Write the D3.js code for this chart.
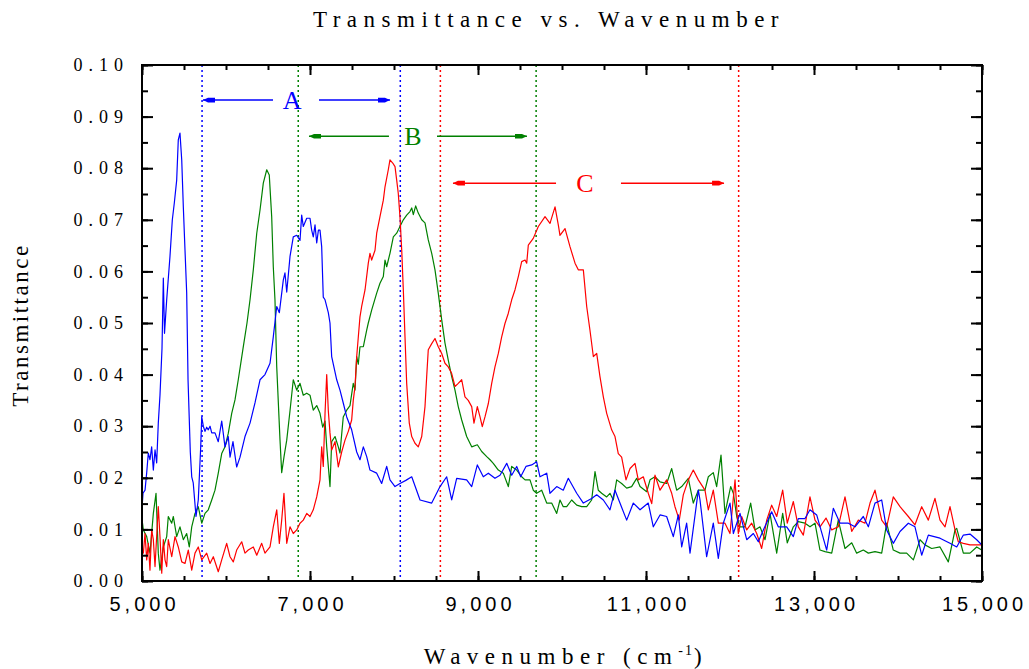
<!DOCTYPE html>
<html>
<head>
<meta charset="utf-8">
<script src="https://cdn.jsdelivr.net/npm/d3@7"></script>
<style>
body { margin: 0; background: #fff; }
</style>
</head>
<body>
<div id="chart"></div>
<script>
// series: [wavenumber (cm-1), transmittance]
var seriesA = [[5000,0.014],[5012,0.017],[5036,0.0176],[5056,0.021],[5075,0.0248],[5095,0.0235],[5115,0.026],[5135,0.0215],[5155,0.0254],[5175,0.0229],[5194,0.0306],[5214,0.036],[5238,0.045],[5254,0.0587],[5268,0.048],[5294,0.0545],[5333,0.0629],[5361,0.070],[5385,0.0733],[5413,0.0777],[5432,0.0855],[5452,0.0868],[5473,0.0816],[5492,0.0725],[5512,0.0641],[5532,0.0558],[5548,0.039],[5575,0.025],[5592,0.0202],[5610,0.019],[5643,0.0125],[5670,0.0157],[5699,0.026],[5711,0.0318],[5730,0.030],[5750,0.029],[5770,0.0298],[5789,0.0293],[5810,0.030],[5830,0.0287],[5869,0.0287],[5908,0.027],[5949,0.031],[5988,0.026],[6027,0.028],[6048,0.024],[6083,0.027],[6127,0.0221],[6167,0.024],[6226,0.028],[6286,0.0306],[6345,0.0345],[6405,0.039],[6464,0.040],[6524,0.0422],[6563,0.0473],[6604,0.0532],[6635,0.052],[6682,0.0583],[6702,0.0597],[6723,0.056],[6762,0.0629],[6801,0.0667],[6842,0.067],[6881,0.066],[6901,0.0709],[6920,0.0687],[6961,0.0703],[7000,0.0703],[7020,0.068],[7039,0.0667],[7060,0.069],[7080,0.0655],[7100,0.068],[7119,0.068],[7139,0.0648],[7158,0.055],[7179,0.0545],[7218,0.052],[7238,0.050],[7258,0.0435],[7318,0.039],[7357,0.037],[7396,0.0345],[7437,0.0318],[7496,0.0293],[7556,0.025],[7595,0.0235],[7635,0.026],[7675,0.0241],[7714,0.0215],[7794,0.0209],[7853,0.0189],[7913,0.0222],[7952,0.0196],[8012,0.0183],[8071,0.0189],[8141,0.0195],[8211,0.0202],[8310,0.0157],[8449,0.0151],[8548,0.0183],[8627,0.0202],[8687,0.0157],[8746,0.0199],[8865,0.0196],[8925,0.0183],[8992,0.0225],[9063,0.0202],[9123,0.0209],[9202,0.0199],[9262,0.0205],[9342,0.0228],[9401,0.0205],[9461,0.0222],[9508,0.0202],[9571,0.0222],[9639,0.0225],[9698,0.0231],[9738,0.0202],[9818,0.0209],[9857,0.017],[9937,0.0183],[10015,0.0176],[10075,0.0199],[10175,0.017],[10254,0.0151],[10353,0.016],[10413,0.0167],[10492,0.0157],[10571,0.0138],[10631,0.0176],[10690,0.0151],[10770,0.0118],[10849,0.0151],[10929,0.0138],[11027,0.0151],[11087,0.0105],[11167,0.0128],[11246,0.0125],[11325,0.0086],[11385,0.0128],[11425,0.0066],[11484,0.0112],[11524,0.0054],[11623,0.0176],[11643,0.0157],[11722,0.0047],[11801,0.0112],[11861,0.0044],[11920,0.0112],[12000,0.0151],[12040,0.0092],[12119,0.0131],[12199,0.008],[12278,0.0092],[12337,0.0076],[12397,0.0099],[12496,0.0134],[12575,0.0105],[12675,0.0105],[12754,0.0086],[12813,0.0121],[12893,0.0121],[12952,0.0138],[13032,0.0128],[13151,0.006],[13230,0.0141],[13310,0.0112],[13409,0.0112],[13488,0.0105],[13587,0.0125],[13647,0.0105],[13726,0.0151],[13806,0.0157],[13865,0.0099],[13944,0.0073],[14024,0.0096],[14123,0.0112],[14202,0.0105],[14282,0.005],[14361,0.0089],[14500,0.0083],[14619,0.0073],[14699,0.0066],[14778,0.0089],[14857,0.0091],[14937,0.008],[14996,0.007]];

var seriesB = [[5000,0.012],[5016,0.0099],[5056,0.0086],[5095,0.0054],[5135,0.0131],[5167,0.017],[5194,0.0054],[5214,0.0021],[5254,0.0066],[5294,0.0086],[5313,0.0125],[5354,0.0112],[5373,0.0125],[5413,0.0086],[5452,0.0105],[5492,0.008],[5532,0.0092],[5563,0.0066],[5592,0.0105],[5631,0.0131],[5670,0.0144],[5711,0.0112],[5750,0.0131],[5789,0.0138],[5830,0.0157],[5869,0.0176],[5908,0.0209],[5949,0.0247],[5988,0.026],[6027,0.0286],[6068,0.0325],[6107,0.0351],[6146,0.039],[6202,0.045],[6250,0.050],[6286,0.0545],[6325,0.0603],[6366,0.0674],[6405,0.0719],[6444,0.0771],[6485,0.0797],[6515,0.0787],[6544,0.0706],[6563,0.0609],[6583,0.0545],[6604,0.0415],[6643,0.0273],[6663,0.021],[6690,0.024],[6723,0.0273],[6762,0.033],[6801,0.039],[6842,0.037],[6881,0.0383],[6920,0.036],[6961,0.0364],[7000,0.036],[7039,0.0331],[7080,0.034],[7119,0.0325],[7151,0.0298],[7179,0.031],[7199,0.026],[7238,0.0183],[7258,0.027],[7298,0.028],[7337,0.026],[7357,0.0248],[7396,0.0318],[7437,0.0331],[7476,0.034],[7515,0.0383],[7536,0.037],[7556,0.0435],[7575,0.042],[7595,0.0454],[7635,0.0454],[7675,0.0486],[7694,0.050],[7734,0.0525],[7794,0.0558],[7833,0.0577],[7873,0.059],[7893,0.0622],[7913,0.0609],[7952,0.0635],[7992,0.0667],[8032,0.0674],[8071,0.0687],[8111,0.070],[8151,0.0709],[8190,0.0716],[8211,0.0723],[8230,0.071],[8258,0.0727],[8289,0.0713],[8330,0.070],[8369,0.0694],[8408,0.0661],[8449,0.0635],[8488,0.0603],[8527,0.0558],[8568,0.0506],[8607,0.0461],[8646,0.0428],[8687,0.0396],[8726,0.037],[8765,0.0338],[8806,0.0312],[8865,0.028],[8925,0.026],[8992,0.0264],[9044,0.0251],[9104,0.0241],[9143,0.0235],[9182,0.0228],[9242,0.0215],[9301,0.0209],[9361,0.0183],[9401,0.0222],[9461,0.0215],[9520,0.0202],[9560,0.0196],[9619,0.0196],[9658,0.0176],[9698,0.017],[9758,0.0176],[9818,0.0151],[9877,0.0151],[9937,0.0131],[9976,0.0157],[10015,0.0144],[10056,0.0144],[10115,0.0157],[10175,0.0147],[10234,0.0144],[10294,0.0144],[10353,0.0157],[10393,0.0212],[10432,0.0176],[10472,0.017],[10532,0.0163],[10571,0.017],[10611,0.0157],[10651,0.0196],[10710,0.0189],[10770,0.018],[10829,0.0183],[10889,0.0199],[10929,0.0183],[11008,0.0173],[11048,0.0196],[11107,0.0202],[11167,0.0192],[11246,0.0189],[11306,0.0218],[11365,0.0176],[11425,0.0183],[11504,0.0199],[11563,0.0151],[11623,0.0176],[11702,0.0176],[11742,0.0202],[11801,0.021],[11841,0.0183],[11893,0.0244],[11940,0.0131],[12008,0.0183],[12040,0.017],[12080,0.0125],[12119,0.0105],[12179,0.0105],[12246,0.0151],[12298,0.0099],[12357,0.0105],[12417,0.008],[12476,0.0131],[12556,0.0054],[12627,0.0131],[12682,0.0074],[12754,0.0105],[12813,0.0115],[12893,0.0112],[12952,0.0105],[13012,0.0112],[13071,0.006],[13131,0.0057],[13211,0.0054],[13289,0.0118],[13369,0.0063],[13449,0.0074],[13508,0.0054],[13587,0.006],[13647,0.0054],[13726,0.0057],[13806,0.0054],[13865,0.0112],[13944,0.006],[14024,0.0054],[14103,0.0054],[14183,0.0041],[14262,0.008],[14321,0.007],[14401,0.0063],[14500,0.0066],[14599,0.0037],[14679,0.0099],[14699,0.0102],[14778,0.0054],[14857,0.0054],[14937,0.0066],[14996,0.006]];

var seriesC = [[5000,0.006],[5016,0.0054],[5036,0.0092],[5056,0.0041],[5075,0.0073],[5095,0.0021],[5115,0.0099],[5135,0.008],[5155,0.0028],[5194,0.0144],[5214,0.0086],[5235,0.0015],[5254,0.008],[5274,0.0041],[5294,0.0028],[5313,0.008],[5354,0.0047],[5393,0.0086],[5432,0.0066],[5473,0.0037],[5512,0.0034],[5551,0.006],[5592,0.0021],[5631,0.0054],[5670,0.0066],[5711,0.0041],[5770,0.0054],[5810,0.0034],[5849,0.0047],[5908,0.0018],[5949,0.0041],[6008,0.0073],[6048,0.0047],[6087,0.0037],[6127,0.006],[6187,0.0076],[6226,0.0054],[6265,0.006],[6325,0.0066],[6366,0.005],[6425,0.0073],[6464,0.0054],[6524,0.0066],[6563,0.0105],[6604,0.0138],[6635,0.0073],[6663,0.0118],[6690,0.017],[6723,0.0073],[6762,0.0105],[6801,0.0092],[6842,0.0099],[6881,0.0112],[6920,0.0118],[6961,0.0131],[7000,0.0125],[7039,0.0138],[7080,0.0163],[7119,0.0196],[7139,0.026],[7158,0.0222],[7179,0.0325],[7199,0.040],[7218,0.033],[7238,0.0287],[7258,0.0254],[7298,0.027],[7337,0.0221],[7377,0.025],[7417,0.0273],[7456,0.029],[7496,0.0312],[7515,0.035],[7536,0.0377],[7556,0.0435],[7595,0.0512],[7615,0.0532],[7655,0.0564],[7694,0.0616],[7714,0.0635],[7734,0.0622],[7774,0.0641],[7794,0.0674],[7833,0.0706],[7873,0.0738],[7893,0.0764],[7932,0.0797],[7952,0.0816],[7985,0.081],[8012,0.0803],[8032,0.0777],[8051,0.0751],[8071,0.0706],[8092,0.0641],[8111,0.0564],[8131,0.0473],[8151,0.0383],[8182,0.0306],[8211,0.028],[8250,0.0267],[8289,0.026],[8330,0.028],[8369,0.0338],[8389,0.0396],[8408,0.0448],[8449,0.046],[8488,0.047],[8527,0.0454],[8568,0.0441],[8607,0.0422],[8646,0.0415],[8687,0.0402],[8726,0.0377],[8765,0.0383],[8806,0.039],[8845,0.0357],[8884,0.035],[8925,0.0338],[8952,0.0306],[8992,0.0338],[9024,0.0318],[9051,0.0299],[9083,0.0318],[9123,0.0344],[9163,0.0383],[9202,0.0415],[9242,0.0441],[9282,0.0473],[9321,0.0499],[9361,0.0519],[9401,0.0545],[9440,0.0564],[9480,0.059],[9520,0.0619],[9560,0.0622],[9580,0.0616],[9599,0.0651],[9658,0.0664],[9718,0.0687],[9798,0.0706],[9857,0.0693],[9917,0.0725],[9956,0.069],[9976,0.067],[10036,0.0683],[10095,0.0648],[10155,0.0616],[10194,0.0603],[10254,0.0603],[10294,0.0532],[10333,0.0486],[10373,0.0435],[10413,0.0441],[10452,0.0396],[10492,0.0357],[10532,0.0325],[10591,0.0293],[10631,0.028],[10670,0.0247],[10710,0.024],[10762,0.0196],[10810,0.0218],[10869,0.0228],[10908,0.0196],[10968,0.0202],[11027,0.017],[11068,0.015],[11107,0.0205],[11167,0.0176],[11246,0.0196],[11306,0.017],[11345,0.0144],[11396,0.0118],[11444,0.0167],[11504,0.0196],[11563,0.0215],[11623,0.0196],[11702,0.0176],[11742,0.0138],[11801,0.0176],[11861,0.0112],[11940,0.0112],[12000,0.0092],[12060,0.0196],[12099,0.0092],[12139,0.0125],[12199,0.0099],[12258,0.0112],[12318,0.0092],[12377,0.0063],[12437,0.0118],[12496,0.0147],[12556,0.0125],[12627,0.0176],[12682,0.0112],[12754,0.0154],[12813,0.0105],[12873,0.0089],[12952,0.0163],[13012,0.0118],[13071,0.0105],[13143,0.0122],[13211,0.0099],[13289,0.0105],[13369,0.0163],[13449,0.0096],[13528,0.0118],[13607,0.0112],[13667,0.0151],[13726,0.0176],[13806,0.0118],[13865,0.0105],[13944,0.0163],[14024,0.0144],[14123,0.0125],[14202,0.0109],[14282,0.0144],[14361,0.0118],[14440,0.016],[14500,0.0118],[14560,0.0105],[14619,0.0144],[14679,0.0099],[14718,0.0076],[14778,0.0073],[14857,0.007],[14937,0.007],[14996,0.007]];

// band edges (dotted verticals) and annotation arrows, in data units
var bandNames = ["A", "B", "C"];
var bandEdges = [[5715, 8075], [6860, 9692], [8552, 12103]];
var arrowLevels = [0.0932, 0.0862, 0.0771];
var arrowLeft = [[6560, 5726], [7940, 6988], [9929, 8702]];
var arrowRight = [[7107, 7952], [8512, 9583], [10702, 11929]];
var labelPos = [6786, 8226, 10274];

var xMajor = [5000, 7000, 9000, 11000, 13000, 15000];
var xMinor = d3.range(5000, 15001, 500);
var yMajor = [0, 0.01, 0.02, 0.03, 0.04, 0.05, 0.06, 0.07, 0.08, 0.09, 0.10];
var yMinor = d3.range(0, 0.1001, 0.005);

var colors = ["#0000ff", "#008000", "#ff0000"];

var margin = {top: 65, right: 47, bottom: 88, left: 142};
var width = 1029 - margin.left - margin.right;
var height = 669 - margin.top - margin.bottom;

var root = d3.select("#chart")
    .append("svg")
    .attr("width", 1029)
    .attr("height", 669);

var svg = root.append("g")
    .attr("transform", "translate(" + margin.left + "," + margin.top + ")");

var x = d3.scaleLinear().domain([5000, 15000]).range([0, width]);
var y = d3.scaleLinear().domain([0, 0.1]).range([height, 0]);

root.append("defs").append("clipPath").attr("id", "plotclip")
    .append("rect").attr("width", width).attr("height", height);

// arrow markers, one per colour
colors.forEach(function(c, i) {
    root.select("defs").append("marker")
        .attr("id", "arrow" + i)
        .attr("viewBox", "0 -4 13 8")
        .attr("refX", 12)
        .attr("refY", 0)
        .attr("markerUnits", "userSpaceOnUse")
        .attr("markerWidth", 13)
        .attr("markerHeight", 8)
        .attr("orient", "auto")
        .append("path")
        .attr("d", "M0,-2.3L7,-2.3L12,0L7,2.3L0,2.3Z")
        .attr("fill", c);
});

// dotted band edges
var edges = [];
bandEdges.forEach(function(e, i) { e.forEach(function(v) { edges.push({v: v, c: colors[i]}); }); });
svg.selectAll(".edge")
    .data(edges)
    .join("line")
    .attr("x1", d => x(d.v))
    .attr("x2", d => x(d.v))
    .attr("y1", 0)
    .attr("y2", height)
    .attr("stroke", d => d.c)
    .attr("stroke-width", 1.5)
    .attr("stroke-dasharray", "2,3");

// series lines
var line = d3.line().x(d => x(d[0])).y(d => y(d[1]));
var plot = svg.append("g").attr("clip-path", "url(#plotclip)");
[[seriesB, colors[1]], [seriesC, colors[2]], [seriesA, colors[0]]].forEach(function(s) {
    plot.append("path")
        .datum(s[0])
        .attr("d", line)
        .attr("fill", "none")
        .attr("stroke", s[1])
        .attr("stroke-width", 1.2)
        .attr("stroke-linejoin", "round");
});

// annotation arrows and labels
bandNames.forEach(function(name, i) {
    [arrowLeft[i], arrowRight[i]].forEach(function(seg) {
        svg.append("line")
            .attr("x1", x(seg[0]))
            .attr("x2", x(seg[1]))
            .attr("y1", y(arrowLevels[i]))
            .attr("y2", y(arrowLevels[i]))
            .attr("stroke", colors[i])
            .attr("stroke-width", 1.5)
            .attr("marker-end", "url(#arrow" + i + ")");
    });
    svg.append("text")
        .attr("x", x(labelPos[i]))
        .attr("y", y(arrowLevels[i]) + 9)
        .attr("text-anchor", "middle")
        .attr("fill", colors[i])
        .style("font", "26px 'Liberation Serif', serif")
        .text(name);
});

// axes: ticks all point inward
function styleAxis(g) {
    g.select(".domain").remove();
    g.selectAll("line").attr("stroke", "#000").attr("stroke-width", 2);
}

svg.append("g").attr("transform", "translate(0," + height + ")")
    .call(d3.axisBottom(x).tickValues(xMinor).tickSize(-5).tickFormat(""))
    .call(styleAxis);
svg.append("g").attr("transform", "translate(0," + height + ")")
    .call(d3.axisBottom(x).tickValues(xMajor).tickSize(-10).tickPadding(16).tickFormat(d3.format(",")))
    .call(styleAxis)
    .selectAll("text")
    .attr("dx", 2)
    .style("font", "20px 'Liberation Sans', Arial, sans-serif")
    .style("letter-spacing", "4px")
    .attr("fill", "#000");
svg.append("g")
    .call(d3.axisTop(x).tickValues(xMinor).tickSize(-5).tickFormat(""))
    .call(styleAxis);
svg.append("g")
    .call(d3.axisTop(x).tickValues(xMajor).tickSize(-10).tickFormat(""))
    .call(styleAxis);

svg.append("g")
    .call(d3.axisLeft(y).tickValues(yMinor).tickSize(-6).tickFormat(""))
    .call(styleAxis);
svg.append("g")
    .call(d3.axisLeft(y).tickValues(yMajor).tickSize(-11).tickPadding(13).tickFormat(d3.format(".2f")))
    .call(styleAxis)
    .selectAll("text")
    .style("font", "18px 'Liberation Serif', 'Times New Roman', serif")
    .style("letter-spacing", "6px")
    .attr("fill", "#000");
svg.append("g").attr("transform", "translate(" + width + ",0)")
    .call(d3.axisRight(y).tickValues(yMinor).tickSize(-6).tickFormat(""))
    .call(styleAxis);
svg.append("g").attr("transform", "translate(" + width + ",0)")
    .call(d3.axisRight(y).tickValues(yMajor).tickSize(-11).tickFormat(""))
    .call(styleAxis);

// frame
svg.append("rect")
    .attr("width", width)
    .attr("height", height)
    .attr("fill", "none")
    .attr("stroke", "#000")
    .attr("stroke-width", 2);

// titles
root.append("text")
    .attr("x", 549)
    .attr("y", 27)
    .attr("text-anchor", "middle")
    .style("font", "23px 'Liberation Serif', serif")
    .style("letter-spacing", "6.5px")
    .text("Transmittance vs. Wavenumber");

var xt = root.append("text")
    .attr("x", 566)
    .attr("y", 664)
    .attr("text-anchor", "middle")
    .style("font", "23px 'Liberation Serif', serif")
    .style("letter-spacing", "6.5px");
xt.append("tspan").text("Wavenumber (cm");
xt.append("tspan").attr("dy", -9).style("font-size", "14px").style("letter-spacing", "2px").text("-1");
xt.append("tspan").attr("dy", 9).text(")");

root.append("text")
    .attr("transform", "translate(28,325)rotate(-90)")
    .attr("text-anchor", "middle")
    .style("font", "23px 'Liberation Serif', serif")
    .style("letter-spacing", "2.5px")
    .text("Transmittance");
</script>
</body>
</html>
